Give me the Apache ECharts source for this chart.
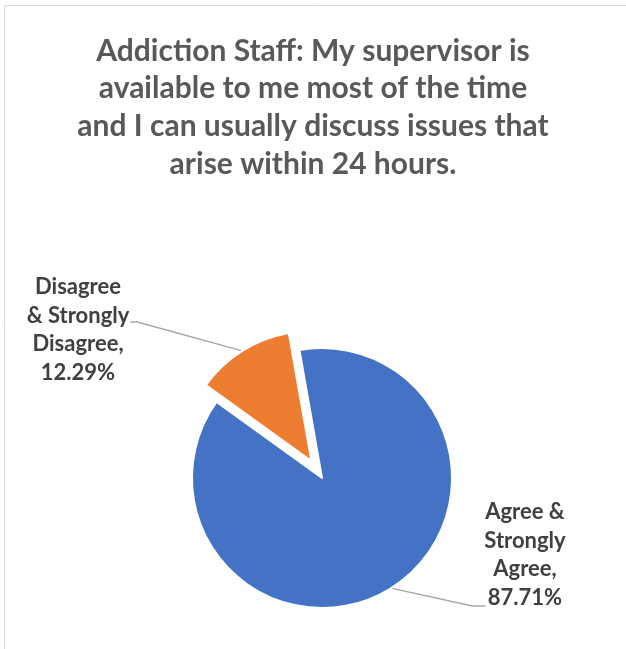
<!DOCTYPE html>
<html>
<head>
<meta charset="utf-8">
<script src="https://cdn.jsdelivr.net/npm/echarts@6/dist/echarts.min.js"></script>
<style>
  html, body { margin: 0; padding: 0; background: #fff; }
  #chart { width: 626px; height: 649px; }
</style>
</head>
<body>
<div id="chart"></div>
<script>
// Survey response shares (percent)
const categories = ['Agree & Strongly Agree', 'Disagree & Strongly Disagree'];
const shares = [87.71, 12.29];
const sliceColors = ['#4472C4', '#ED7D31'];
// Label text broken over lines, one entry per category
const labelLines = [
  ['Agree &', 'Strongly', 'Agree,'],
  ['Disagree', '& Strongly', 'Disagree,']
];
const titleText = 'Addiction Staff: My supervisor is\navailable to me most of the time\nand I can usually discuss issues that\narise within 24 hours.';

const chart = echarts.init(document.getElementById('chart'), null, { renderer: 'canvas' });

const labelFont = "'Lato', 'Open Sans', sans-serif";
const pieCenter = [322, 478];
const pieRadius = 130;
const startAngle = 100;
const explodeIndex = 1;   // slice pulled out of the pie
const explodeDist = 20;

// Direction of the pulled-out slice: middle of its angular span
const total = shares.reduce((a, b) => a + b, 0);
let before = 0;
for (let i = 0; i < explodeIndex; i++) before += shares[i];
const midDeg = startAngle - (before + shares[explodeIndex] / 2) / total * 360;
const midRad = midDeg * Math.PI / 180;
const explodedCenter = [
  pieCenter[0] + Math.cos(midRad) * explodeDist,
  pieCenter[1] - Math.sin(midRad) * explodeDist
];

// Where each text block sits (centre) and which side its leader reaches
const labelSpots = [
  { x: 525, y: 555, side: 'left', endDy: 51, bend: -13 },
  { x: 78, y: 330, side: 'right', endDy: -8, bend: 7 }
];

const labelStyle = {
  show: true,
  position: 'outside',
  overflow: 'none',
  fontFamily: labelFont,
  fontWeight: 'bold',
  fontSize: 22,
  lineHeight: 28.8,
  color: '#404040',
  align: 'center',
  formatter: p => labelLines[p.dataIndex].concat(p.value.toFixed(2) + '%').join('\n')
};

function placeLabel(params) {
  const spot = labelSpots[params.dataIndex];
  if (!params.labelLinePoints) return {};
  const r = params.labelRect;
  const start = params.labelLinePoints[0];
  const edgeX = spot.side === 'left' ? spot.x - r.width / 2 + 1 : spot.x + r.width / 2 + 1;
  const endY = spot.y + spot.endDy;
  return {
    x: spot.x,
    y: spot.y,
    align: 'center',
    verticalAlign: 'middle',
    labelLinePoints: [start, [edgeX + spot.bend, endY], [edgeX, endY]]
  };
}

// One pie layer per slice position: the main body, and the pulled-out slice
function layer(center, visibleIndex) {
  return {
    type: 'pie',
    center: center,
    radius: [0, pieRadius],
    startAngle: startAngle,
    clockwise: true,
    avoidLabelOverlap: false,
    silent: true,
    label: labelStyle,
    labelLine: {
      show: true,
      length: 10,
      length2: 10,
      lineStyle: { color: '#a6a6a6', width: 1.3 }
    },
    labelLayout: placeLabel,
    data: categories.map((name, i) => {
      const shown = visibleIndex(i);
      return {
        name: name,
        value: shares[i],
        itemStyle: shown
          ? { color: sliceColors[i], borderColor: '#fff', borderWidth: 2 }
          : { color: 'rgba(0,0,0,0)', borderWidth: 0 },
        label: { show: shown },
        labelLine: { show: shown }
      };
    })
  };
}

chart.setOption({
  backgroundColor: '#fff',
  animation: false,
  graphic: [{
    type: 'rect',
    shape: { x: 4.5, y: 5.5, width: 640, height: 660 },
    style: { fill: 'none', stroke: '#d9d9d9', lineWidth: 1 },
    silent: true
  }],
  title: {
    text: titleText,
    left: 'center',
    top: 27,
    textStyle: {
      fontFamily: labelFont,
      fontWeight: 'bold',
      fontSize: 30,
      lineHeight: 37.7,
      color: '#595959'
    }
  },
  series: [
    layer(pieCenter, i => i !== explodeIndex),
    layer(explodedCenter, i => i === explodeIndex)
  ]
});
</script>
</body>
</html>
